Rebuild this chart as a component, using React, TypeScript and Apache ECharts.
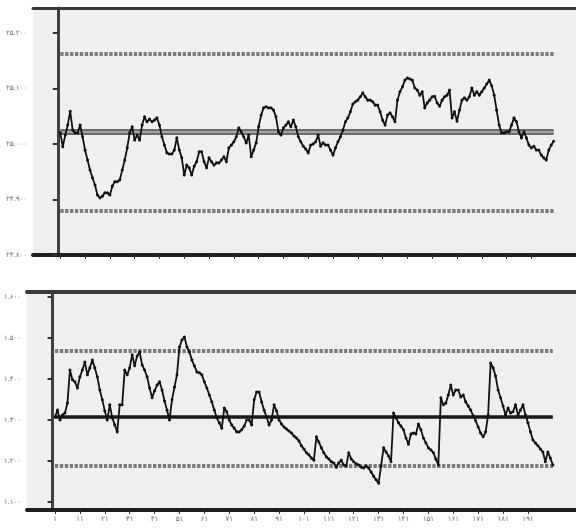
import React, { useEffect, useRef } from "react";
import * as echarts from "echarts";

// ---------- data ----------
const topValues = [
  25.020, 24.995, 25.016, 25.034, 25.059, 25.025, 25.020, 25.020, 25.034, 25.013,
  24.989, 24.971, 24.953, 24.939, 24.926, 24.908, 24.903, 24.906, 24.912, 24.912,
  24.908, 24.924, 24.932, 24.932, 24.935, 24.953, 24.971, 24.993, 25.020, 25.031,
  25.007, 25.016, 25.007, 25.034, 25.049, 25.040, 25.045, 25.040, 25.043, 25.047,
  25.034, 25.013, 24.998, 24.984, 24.982, 24.982, 24.989, 25.011, 24.989, 24.975,
  24.944, 24.962, 24.957, 24.944, 24.960, 24.968, 24.986, 24.986, 24.968, 24.957,
  24.975, 24.968, 24.962, 24.966, 24.966, 24.971, 24.977, 24.968, 24.993, 24.998,
  25.004, 25.013, 25.029, 25.022, 25.013, 25.002, 25.016, 24.977, 24.989, 25.002,
  25.031, 25.052, 25.065, 25.067, 25.065, 25.065, 25.061, 25.049, 25.022, 25.016,
  25.029, 25.034, 25.040, 25.031, 25.043, 25.031, 25.013, 25.004, 24.996, 24.991,
  24.984, 24.998, 25.000, 25.004, 25.016, 24.996, 25.002, 24.998, 24.998, 24.989,
  24.980, 24.993, 25.004, 25.013, 25.025, 25.040, 25.047, 25.058, 25.072, 25.076,
  25.079, 25.085, 25.092, 25.085, 25.079, 25.079, 25.076, 25.070, 25.070, 25.058,
  25.043, 25.034, 25.052, 25.056, 25.049, 25.040, 25.079, 25.094, 25.103, 25.115,
  25.119, 25.117, 25.115, 25.101, 25.097, 25.088, 25.094, 25.065, 25.074, 25.079,
  25.085, 25.086, 25.074, 25.068, 25.079, 25.085, 25.088, 25.097, 25.047, 25.058,
  25.041, 25.061, 25.079, 25.083, 25.079, 25.085, 25.101, 25.088, 25.094, 25.088,
  25.094, 25.101, 25.108, 25.115, 25.105, 25.088, 25.061, 25.034, 25.020, 25.020,
  25.022, 25.022, 25.034, 25.047, 25.040, 25.022, 25.011, 25.022, 25.011, 24.998,
  24.993, 24.996, 24.989, 24.989, 24.980, 24.975, 24.971, 24.989, 24.998, 25.005,
];

const bottomValues = [
  1.307, 1.324, 1.300, 1.312, 1.317, 1.341, 1.422, 1.398, 1.393, 1.378,
  1.405, 1.422, 1.441, 1.410, 1.427, 1.446, 1.427, 1.405, 1.373, 1.349,
  1.322, 1.300, 1.337, 1.305, 1.288, 1.271, 1.337, 1.337, 1.422, 1.410,
  1.427, 1.459, 1.432, 1.456, 1.466, 1.434, 1.422, 1.405, 1.378, 1.354,
  1.371, 1.385, 1.393, 1.373, 1.346, 1.324, 1.300, 1.349, 1.380, 1.410,
  1.478, 1.495, 1.502, 1.478, 1.466, 1.446, 1.432, 1.417, 1.415, 1.410,
  1.393, 1.378, 1.361, 1.344, 1.324, 1.305, 1.293, 1.280, 1.329, 1.320,
  1.300, 1.288, 1.280, 1.271, 1.271, 1.276, 1.285, 1.300, 1.300, 1.288,
  1.349, 1.368, 1.368, 1.344, 1.324, 1.307, 1.288, 1.300, 1.337, 1.322,
  1.300, 1.290, 1.283, 1.278, 1.273, 1.268, 1.261, 1.256, 1.249, 1.237,
  1.229, 1.220, 1.215, 1.207, 1.202, 1.259, 1.246, 1.232, 1.220, 1.210,
  1.205, 1.198, 1.195, 1.185, 1.195, 1.202, 1.190, 1.188, 1.220, 1.205,
  1.198, 1.193, 1.190, 1.185, 1.183, 1.188, 1.183, 1.173, 1.163, 1.154,
  1.146, 1.188, 1.232, 1.222, 1.212, 1.198, 1.317, 1.305, 1.293, 1.285,
  1.276, 1.256, 1.241, 1.266, 1.268, 1.266, 1.290, 1.276, 1.256, 1.244,
  1.232, 1.227, 1.220, 1.205, 1.190, 1.354, 1.337, 1.341, 1.361, 1.385,
  1.361, 1.373, 1.373, 1.356, 1.361, 1.344, 1.334, 1.324, 1.310, 1.298,
  1.283, 1.268, 1.259, 1.271, 1.312, 1.439, 1.427, 1.407, 1.373, 1.354,
  1.334, 1.312, 1.329, 1.317, 1.320, 1.337, 1.312, 1.324, 1.337, 1.312,
  1.293, 1.271, 1.251, 1.244, 1.237, 1.229, 1.222, 1.198, 1.222, 1.207,
  1.190,
];

// control limits
const topUCL = 25.162;
const topCL = 25.022;
const topLCL = 24.879;
const bottomUCL = 1.468;
const bottomCL = 1.307;
const bottomLCL = 1.188;

// tick positions
const xTickValues = [1, 11, 21, 31, 41, 51, 61, 71, 81, 91, 101, 111, 121, 131, 141, 151, 161, 171, 181, 191];
const topYTicks = [24.8, 24.9, 25.0, 25.1, 25.2];
const bottomYTicks = [1.1, 1.2, 1.3, 1.4, 1.5, 1.6];

const FA = "۰۱۲۳۴۵۶۷۸۹";
const toFa = (s: string) => s.replace(/\d/g, (d) => FA[+d]);

export default function App() {
  const ref = useRef<HTMLDivElement>(null);

  useEffect(() => {
    if (!ref.current) return;
    const chart = echarts.init(ref.current, null, { renderer: "svg" });

    const topData = topValues.map((v, i) => [i + 1, v]);
    const bottomData = bottomValues.map((v, i) => [i + 1, v]);
    const topN = topValues.length;
    const botN = bottomValues.length;

    const seg = (v: number, n: number) => [{ coord: [1, v] }, { coord: [n, v] }];

    const dashed = { color: "#7b7b7b", width: 4, type: [3.3, 1.6] as any };

    const labelStyle = { fontSize: 7, color: "#666666", fontFamily: "DejaVu Sans" };

    const baseX = (gridIndex: number, min: number, max: number, showLabels: boolean) => ({
      gridIndex,
      type: "value" as const,
      min,
      max,
      position: "bottom" as const,
      axisLine: { show: true, onZero: false, lineStyle: { color: "#1e1e1e", width: 4 } },
      axisTick: {
        show: true,
        customValues: xTickValues,
        length: 4,
        lineStyle: { color: "#333", width: 1 },
      },
      axisLabel: {
        show: showLabels,
        customValues: xTickValues,
        margin: 5,
        ...labelStyle,
        formatter: (v: number) => toFa(String(v)),
      },
      splitLine: { show: false },
    });

    const topX = (gridIndex: number, min: number, max: number, w: number) => ({
      gridIndex,
      type: "value" as const,
      min,
      max,
      position: "top" as const,
      axisLine: { show: true, onZero: false, lineStyle: { color: "#3a3a3a", width: w } },
      axisTick: { show: false },
      axisLabel: { show: false },
      splitLine: { show: false },
    });

    const lineSeries = (xi: number, yi: number, data: number[][]) => ({
      type: "line",
      xAxisIndex: xi,
      yAxisIndex: yi,
      data,
      z: 5,
      symbol: "circle",
      symbolSize: 3,
      showAllSymbol: true,
      itemStyle: { color: "#111" },
      lineStyle: { color: "#111", width: 1.8 },
    });

    const ml = (xi: number, yi: number, data: any[], lineStyle: any, z: number) => ({
      type: "line",
      xAxisIndex: xi,
      yAxisIndex: yi,
      data: [],
      z,
      markLine: {
        silent: true,
        symbol: "none",
        label: { show: false },
        data,
        lineStyle,
      },
    });

    chart.setOption({
      animation: false,
      backgroundColor: "#ffffff",
      grid: [
        { left: 33, right: 0, top: 8, height: 247, show: true, backgroundColor: "#efefef", borderWidth: 0 },
        { left: 27, right: 0, top: 292, height: 218, show: true, backgroundColor: "#efefef", borderWidth: 0 },
      ],
      xAxis: [
        baseX(0, -10, 209, false),
        topX(0, -10, 209, 3),
        baseX(1, -10.25, 210.3, true),
        topX(1, -10.25, 210.3, 4),
      ],
      yAxis: [
        {
          gridIndex: 0,
          type: "value",
          min: 24.8,
          max: 25.245,
          axisLine: { show: true, lineStyle: { color: "#404040", width: 3 } },
          axisTick: { show: true, customValues: topYTicks, length: 5, lineStyle: { color: "#333", width: 2 } },
          axisLabel: {
            customValues: topYTicks,
            margin: 6,
            ...labelStyle,
            formatter: (v: number) => toFa(v.toFixed(3)),
          },
          splitLine: { show: false },
        },
        {
          gridIndex: 1,
          type: "value",
          min: 1.0805,
          max: 1.612,
          axisLine: { show: true, lineStyle: { color: "#404040", width: 3 } },
          axisTick: { show: true, customValues: bottomYTicks, length: 5, lineStyle: { color: "#333", width: 2 } },
          axisLabel: {
            customValues: bottomYTicks,
            margin: 6,
            ...labelStyle,
            formatter: (v: number) => toFa(v.toFixed(3)),
          },
          splitLine: { show: false },
        },
      ],
      series: [
        ml(0, 0, [seg(topUCL, topN), seg(topLCL, topN)], dashed, 1),
        ml(0, 0, [seg(topCL, topN)], { color: "#6c6c6c", width: 6, type: "solid" }, 1),
        ml(0, 0, [seg(topCL, topN)], { color: "#a5a5a5", width: 2, type: "solid" }, 2),
        lineSeries(0, 0, topData),
        ml(2, 1, [seg(bottomUCL, botN), seg(bottomLCL, botN)], dashed, 1),
        ml(2, 1, [seg(bottomCL, botN)], { color: "#1a1a1a", width: 3.5, type: "solid" }, 1),
        lineSeries(2, 1, bottomData),
      ],
    });

    return () => chart.dispose();
  }, []);

  return (
    <div
      ref={ref}
      style={{ position: "fixed", left: 0, top: 0, width: 576, height: 529 }}
    />
  );
}
